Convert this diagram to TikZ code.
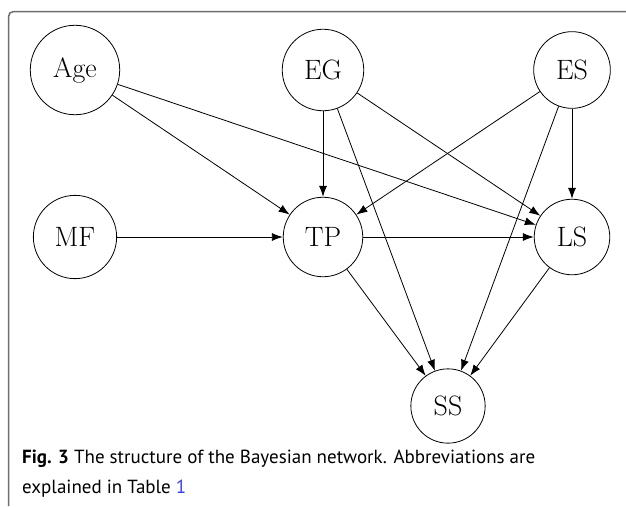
\documentclass[tikz,border=0pt]{standalone}
\usepackage{fontspec}
\newfontfamily\capfont{PT Sans}
\usetikzlibrary{arrows.meta}

\definecolor{linkblue}{RGB}{60,60,235}
\definecolor{framegray}{RGB}{110,110,110}

\tikzset{
  var/.style={draw, circle, line width=0.8pt, inner sep=14pt,
    font=\fontsize{28}{32}\selectfont},
  dep/.style={-{Latex[length=11pt,width=8pt]}, line width=0.8pt},
}

\begin{document}
\begin{tikzpicture}[x=1pt, y=-1pt]
    \useasboundingbox (0,0) rectangle (626,506);
    \draw[framegray, line width=1.5pt, rounded corners=5pt] (8.5,506) -- (8.5,11.5) -- (626,11.5);

    % variables
    \node[var] (age) at (75,70) {Age};
    \node[var] (eg) at (323,70) {EG};
    \node[var] (es) at (572,70) {ES};
    \node[var] (mf) at (75,237) {MF};
    \node[var] (tp) at (323,237) {TP};
    \node[var] (ls) at (572,237) {LS};
    \node[var] (ss) at (448,406) {SS};

    % dependencies
    \draw[dep] (age) -- (tp);
    \draw[dep] (age) -- (ls);
    \draw[dep] (mf) -- (tp);
    \draw[dep] (eg) -- (tp);
    \draw[dep] (eg) -- (ss);
    \draw[dep] (eg) -- (ls);
    \draw[dep] (es) -- (tp);
    \draw[dep] (es) -- (ss);
    \draw[dep] (es) -- (ls);
    \draw[dep] (tp) -- (ls);
    \draw[dep] (tp) -- (ss);
    \draw[dep] (ls) -- (ss);

    \node[anchor=base west, align=left, inner sep=0pt,
      font=\capfont\fontsize{19}{30}\selectfont] (caption) at (22,493)
      {\textbf{Fig. 3} The structure of the Bayesian network. Abbreviations are\\
       explained in Table \textcolor{linkblue}{1}};
\end{tikzpicture}
\end{document}
